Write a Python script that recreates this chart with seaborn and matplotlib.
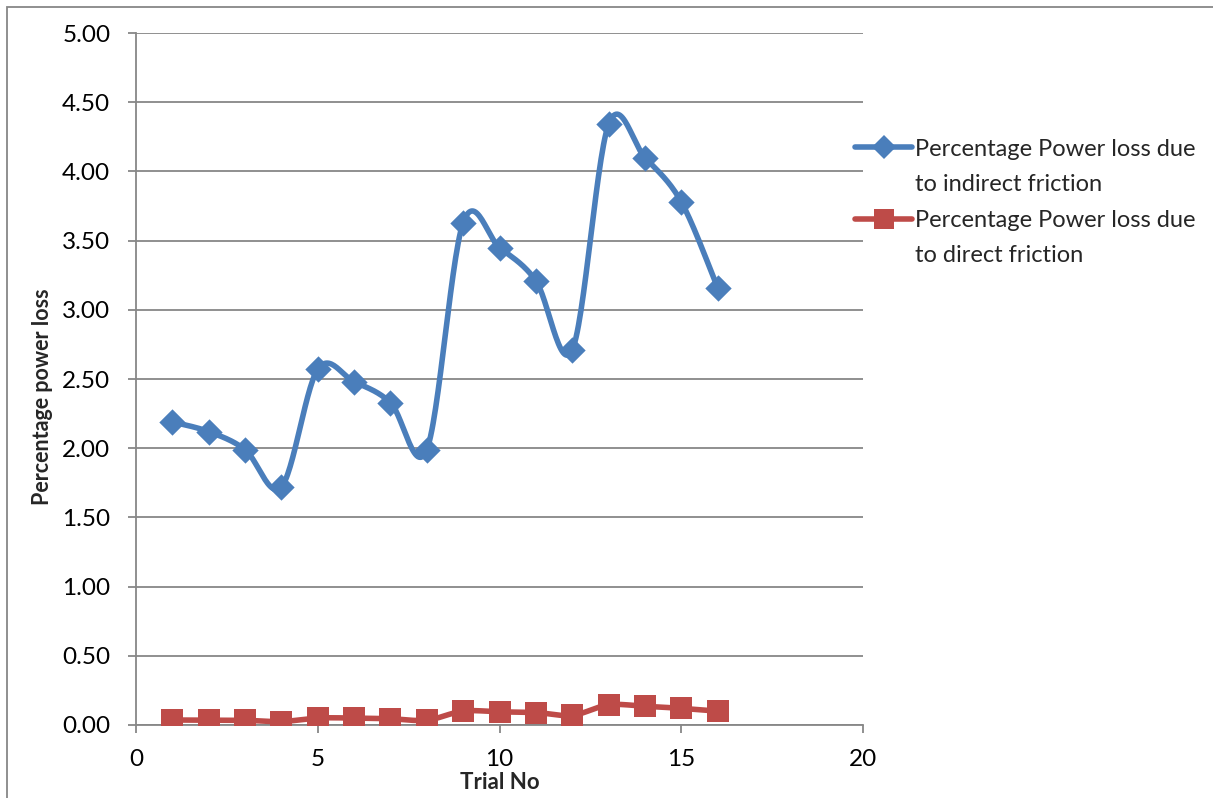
import numpy as np
import matplotlib.pyplot as plt
import seaborn as sns
from matplotlib.lines import Line2D
from matplotlib.patches import Rectangle

sns.set_theme(style="white")
plt.rcParams["font.family"] = ["Lato", "DejaVu Sans"]

trial = [1, 2, 3, 4, 5, 6, 7, 8, 9, 10, 11, 12, 13, 14, 15, 16]
indirect = [2.19, 2.12, 1.99, 1.72, 2.57, 2.48, 2.33, 1.99,
            3.63, 3.45, 3.21, 2.71, 4.34, 4.10, 3.78, 3.16]
direct = [0.036, 0.035, 0.034, 0.025, 0.050, 0.050, 0.045, 0.035,
          0.100, 0.095, 0.090, 0.070, 0.145, 0.135, 0.120, 0.100]

BLUE = "#4a7ebb"
RED = "#be4b48"
GRID = "#878787"


def smooth(x, y, n=30):
    # bezier smoothing like the spreadsheet "smoothed line" option
    x = np.asarray(x, float)
    y = np.asarray(y, float)
    px = np.concatenate([[x[0]], x, [x[-1]]])
    py = np.concatenate([[y[0]], y, [y[-1]]])
    xs, ys = [], []
    t = np.linspace(0, 1, n)
    for i in range(1, len(px) - 2):
        p0 = np.array([px[i], py[i]])
        p3 = np.array([px[i + 1], py[i + 1]])
        p1 = p0 + (np.array([px[i + 1], py[i + 1]]) - np.array([px[i - 1], py[i - 1]])) / 6
        p2 = p3 - (np.array([px[i + 2], py[i + 2]]) - np.array([px[i], py[i]])) / 6
        b = ((1 - t) ** 3)[:, None] * p0 + (3 * (1 - t) ** 2 * t)[:, None] * p1 \
            + (3 * (1 - t) * t ** 2)[:, None] * p2 + (t ** 3)[:, None] * p3
        xs.extend(b[:, 0])
        ys.extend(b[:, 1])
    return np.array(xs), np.array(ys)


fig = plt.figure(figsize=(12.13, 7.98), dpi=100)
ax = fig.add_axes([0.1121, 0.0915, 0.5994, 0.8671])

sx, sy = smooth(trial, indirect)
ax.plot(sx, sy, color=BLUE, lw=4, solid_capstyle="round", zorder=3)
sns.scatterplot(x=trial, y=indirect, marker="D", s=180, color=BLUE,
                edgecolor=BLUE, linewidth=0, ax=ax, zorder=4)
sx, sy = smooth(trial, direct)
ax.plot(sx, sy, color=RED, lw=4, solid_capstyle="round", zorder=3)
sns.scatterplot(x=trial, y=direct, marker="s", s=230, color=RED,
                edgecolor=RED, linewidth=0, ax=ax, zorder=4)

ax.set_xlim(0, 20)
ax.set_ylim(0, 5)
ax.set_xticks([0, 5, 10, 15, 20])
ax.set_yticks(np.arange(0, 5.01, 0.5))
ax.set_yticklabels([f"{v:.2f}" for v in np.arange(0, 5.01, 0.5)])
ax.yaxis.grid(True, color=GRID, lw=1.3)
ax.set_axisbelow(True)
for s in ["top", "right"]:
    ax.spines[s].set_visible(False)
for s in ["left", "bottom"]:
    ax.spines[s].set_color(GRID)
    ax.spines[s].set_linewidth(1.3)
ax.tick_params(axis="both", which="major", length=6, width=1.3, color=GRID,
               labelsize=17.5, labelcolor="black", direction="out")
ax.tick_params(axis="y", left=True, pad=12.5)
ax.tick_params(axis="x", bottom=True, pad=11)

ax.set_xlabel("Trial No", fontsize=16, fontweight="bold")
ax.xaxis.set_label_coords(0.5, -0.068)
ax.set_ylabel("Percentage power loss", fontsize=15.5, fontweight="bold")
ax.yaxis.set_label_coords(-0.114, 0.474)

# legend: handle sits on the first line of each wrapped label
blank = Line2D([], [], color="none")
handles = [
    Line2D([], [], color=BLUE, lw=4, marker="D", markersize=12, markeredgewidth=0),
    blank,
    Line2D([], [], color=RED, lw=4, marker="s", markersize=14, markeredgewidth=0),
    blank,
]
labels = ["Percentage Power loss due", "to indirect friction",
          "Percentage Power loss due", "to direct friction"]
leg = fig.legend(handles, labels, loc="upper left", bbox_to_anchor=(0.6875, 0.853),
                 frameon=False, fontsize=17, handlelength=2.4, handletextpad=0.12,
                 labelspacing=0.62)

fig.patches.append(Rectangle((7 / 1213, -0.1), 1.2, 1 - 7 / 798 + 0.1,
                             transform=fig.transFigure, fill=False,
                             edgecolor=GRID, lw=1.3))

fig.savefig("out.png", dpi=100)
